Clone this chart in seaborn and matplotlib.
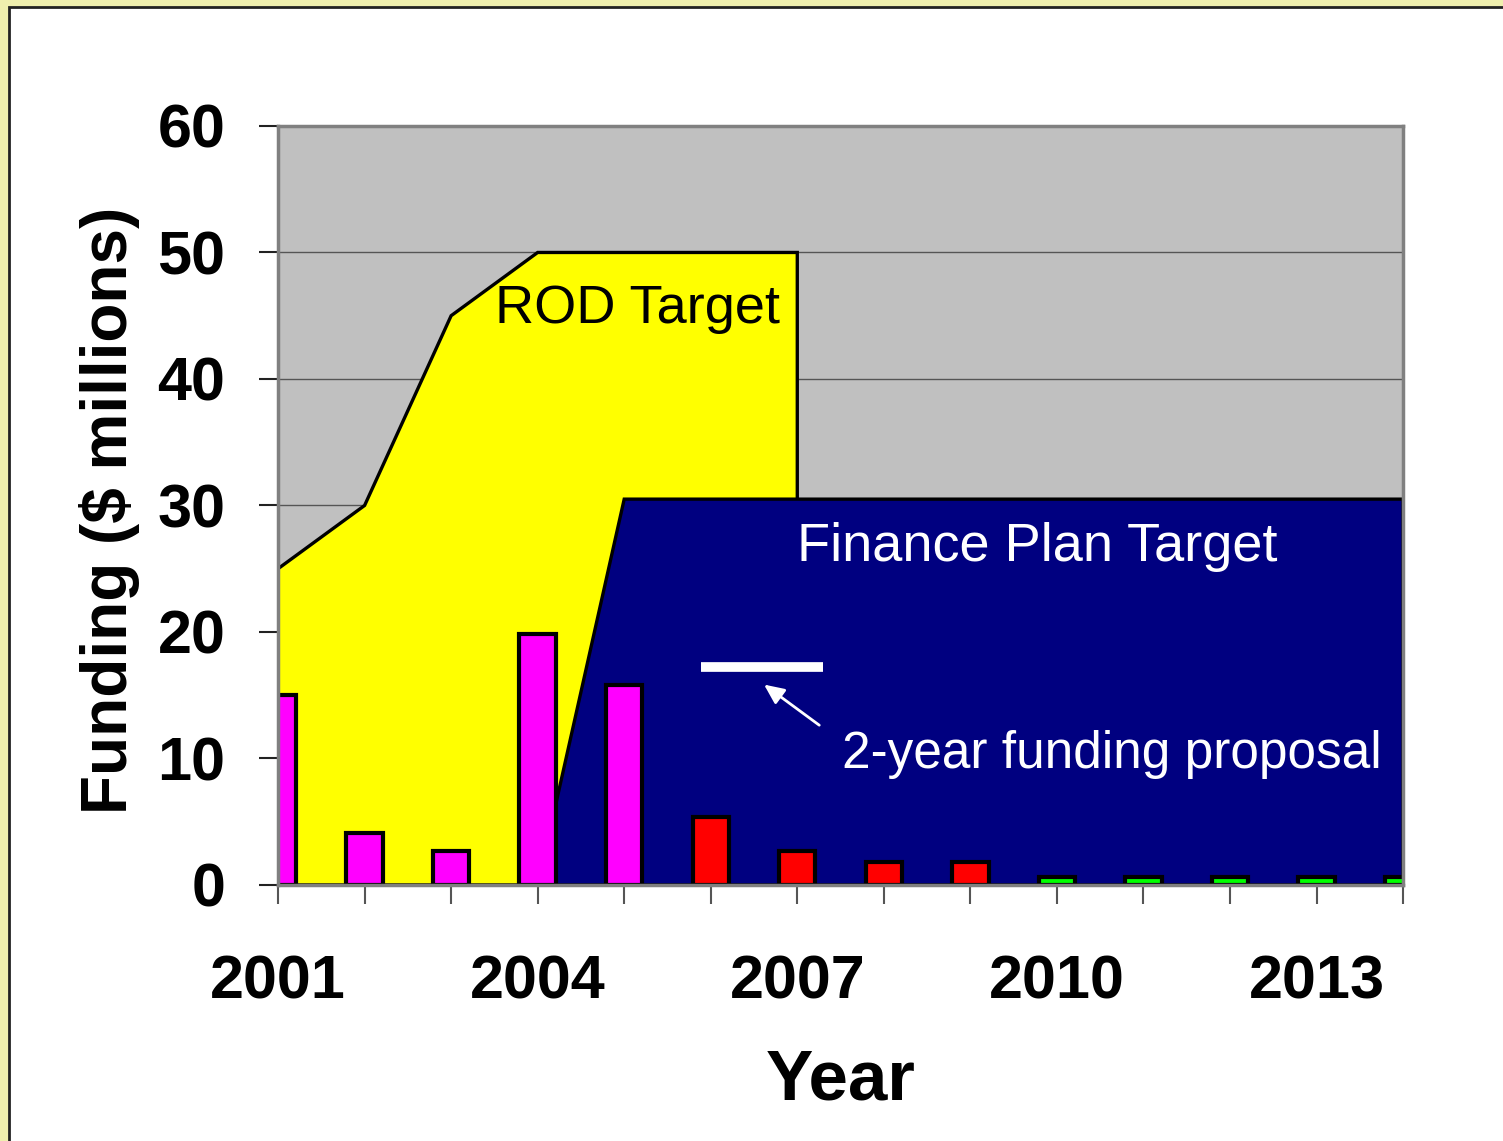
import numpy as np
import pandas as pd
import matplotlib
matplotlib.use("Agg")
import matplotlib.pyplot as plt
import seaborn as sns
from matplotlib.patches import Rectangle

# Data
years = [2001, 2002, 2003, 2004, 2005, 2006, 2007, 2008, 2009, 2010, 2011, 2012, 2013, 2014]
funding = [15.0, 4.1, 2.7, 19.8, 15.8, 5.4, 2.7, 1.8, 1.8, 0.6, 0.6, 0.6, 0.6, 0.6]
phase = ["actual"] * 5 + ["planned"] * 4 + ["future"] * 5
phase_colors = {"actual": "#FF00FF", "planned": "#FF0000", "future": "#00FF00"}

rod_years = [2001, 2002, 2003, 2004, 2005, 2006, 2007]
rod_target = [25, 30, 45, 50, 50, 50, 50]

plan_years = [2004, 2005, 2006, 2007, 2008, 2009, 2010, 2011, 2012, 2013, 2014]
plan_target = [0, 30.5, 30.5, 30.5, 30.5, 30.5, 30.5, 30.5, 30.5, 30.5, 30.5]

proposal_years = [2005.89, 2007.3]
proposal_value = [17.2, 17.2]

tick_label_years = [2001, 2004, 2007, 2010, 2013]

df = pd.DataFrame({"year": years, "funding": funding, "phase": phase})

plt.rcParams["font.family"] = ["Liberation Sans", "DejaVu Sans"]

fig = plt.figure(figsize=(15.03, 11.41), dpi=100, facecolor="#EFEFAE")
# white slide panel with dark outline
fig.patches.append(Rectangle((0.006, -0.01), 1.0, 1.0039, transform=fig.transFigure,
                             facecolor="white", edgecolor="#222222", linewidth=2, zorder=-5))

ax = fig.add_axes([0.185, 0.2244, 0.7485, 0.6652])
ax.set_facecolor("#C0C0C0")

# target areas
ax.fill(rod_years + [rod_years[-1], rod_years[0]], rod_target + [0, 0],
        facecolor="#FFFF00", edgecolor="black", linewidth=2.4, zorder=1)
ax.fill(plan_years + [plan_years[-1]], plan_target + [0],
        facecolor="#000080", edgecolor="black", linewidth=2.4, zorder=1.1)

# funding bars
sns.barplot(data=df, x="year", y="funding", hue="phase", palette=phase_colors,
            native_scale=True, dodge=False, width=0.42, saturation=1,
            edgecolor="black", linewidth=3, legend=False, ax=ax, zorder=2)

# 2-year funding proposal
ax.plot(proposal_years, proposal_value, color="white", linewidth=7, solid_capstyle="butt", zorder=3)
ax.annotate("", xy=(2006.59, 15.97), xytext=(2007.28, 12.5),
            arrowprops=dict(arrowstyle="-|>,head_length=1.2,head_width=0.55",
                            color="white", lw=2), zorder=3)

ax.text(2003.51, 45.5, "ROD Target", fontsize=39, color="black", va="center", ha="left", zorder=4)
ax.text(2007.0, 26.7, "Finance Plan Target", fontsize=39, color="white", va="center", ha="left", zorder=4)
ax.text(2007.52, 10.3, "2-year funding proposal", fontsize=37, color="white", va="center", ha="left", zorder=4)

ax.set_xlim(2001, 2014)
ax.set_ylim(0, 60)
ax.set_yticks(range(0, 61, 10))
ax.set_xticks(years)
ax.set_xticklabels([str(y) if y in tick_label_years else "" for y in years])

ax.set_axisbelow(True)
ax.grid(axis="y", color="#555555", linewidth=1)
ax.grid(axis="x", visible=False)

for side in ["left", "right", "top", "bottom"]:
    ax.spines[side].set_color("#808080")
    ax.spines[side].set_linewidth(2.5)

ax.tick_params(axis="y", length=14, width=1.5, color="#222222", pad=24,
               labelsize=44)
ax.tick_params(axis="x", length=14, width=1.5, color="#555555", pad=36,
               labelsize=44)
for lab in ax.get_xticklabels() + ax.get_yticklabels():
    lab.set_fontweight("bold")

ax.set_xlabel("Year", fontsize=51, fontweight="bold")
ax.set_ylabel("Funding ($ millions)", fontsize=46, fontweight="bold")
ax.xaxis.set_label_coords(0.5, -0.215)
ax.yaxis.set_label_coords(-0.1227, 0.494)

fig.savefig("out.png", dpi=100, facecolor=fig.get_facecolor())
